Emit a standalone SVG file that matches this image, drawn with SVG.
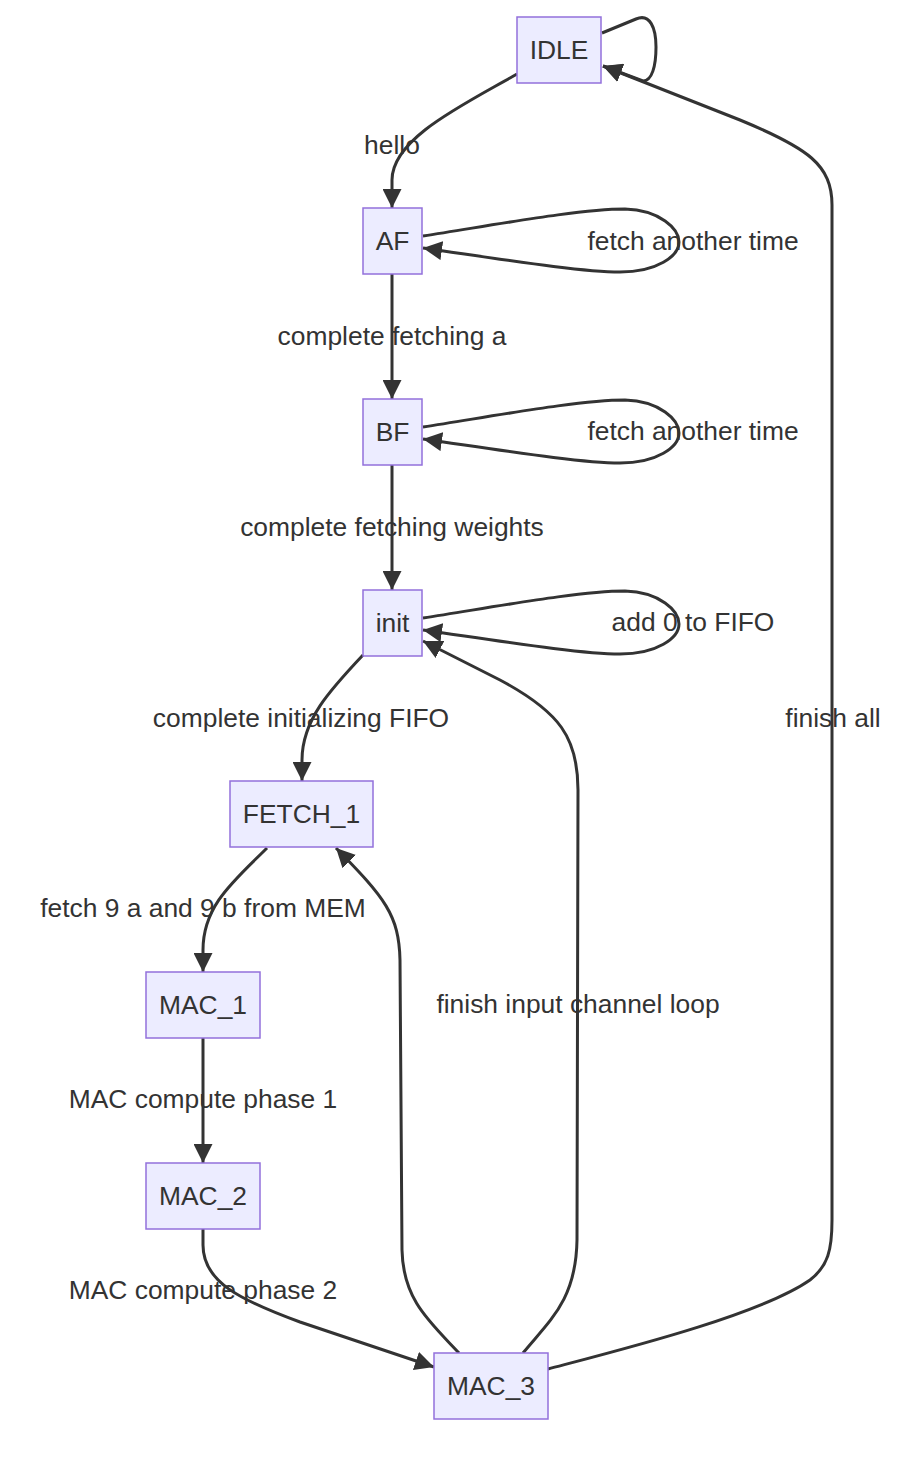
<svg xmlns="http://www.w3.org/2000/svg" width="906" height="1458" viewBox="0 0 906 1458">
<style>
.node rect{fill:#ECECFF;stroke:#9370DB;stroke-width:1.5}
text{font-family:"Liberation Sans",Arial,Helvetica,sans-serif;font-size:26.4px;fill:#333;text-anchor:middle}
.edge{fill:none;stroke:#333;stroke-width:3}
</style>
<defs>
<marker id="arrow" markerUnits="userSpaceOnUse" viewBox="0 0 10 10" refX="10" refY="5" markerWidth="19" markerHeight="19" orient="auto">
<path d="M0,0 L10,5 L0,10 z" fill="#333"/>
</marker>
</defs>
<rect width="906" height="1458" fill="#fff"/>
<g id="connectors">
<path class="edge" marker-end="url(#arrow)" d="M602,33 L636,19 C650,13 656,28 656,47 C656,66 652,81 643,81 L603,66"/>
<path class="edge" marker-end="url(#arrow)" d="M517,74 C465,104 392,138 392,180 L392,208"/>
<path class="edge" marker-end="url(#arrow)" d="M423,236 C500,224 580,209 625,209 C660,210 679,229 679,242 C679,256 657,272 620,272 C580,272 500,259 423,248"/>
<path class="edge" marker-end="url(#arrow)" d="M392,274 L392,399"/>
<path class="edge" marker-end="url(#arrow)" d="M423,427 C500,415 580,400 625,400 C660,401 679,420 679,433 C679,447 657,463 620,463 C580,463 500,450 423,439"/>
<path class="edge" marker-end="url(#arrow)" d="M392,465 L392,590"/>
<path class="edge" marker-end="url(#arrow)" d="M423,618 C500,606 580,591 625,591 C660,592 679,611 679,624 C679,638 657,654 620,654 C580,654 500,641 423,630"/>
<path class="edge" marker-end="url(#arrow)" d="M363,655 C330,690 302,720 302,760 L302,781"/>
<path class="edge" marker-end="url(#arrow)" d="M267,848 C235,880 203,905 203,950 L203,972"/>
<path class="edge" marker-end="url(#arrow)" d="M203,1038 L203,1163"/>
<path class="edge" marker-end="url(#arrow)" d="M203,1229 L203,1245 C203,1282 240,1300 300,1322 L434,1367"/>
<path class="edge" marker-end="url(#arrow)" d="M459,1353 C430,1322 403,1300 402,1250 L400,960 C399,915 385,898 336,848"/>
<path class="edge" marker-end="url(#arrow)" d="M523,1353 C550,1320 576,1300 577,1240 L578,790 C578,738 560,712 500,680 L423,641"/>
<path class="edge" marker-end="url(#arrow)" d="M548,1369 C620,1350 760,1315 810,1280 C828,1266 832,1250 832,1220 L832,205 C832,165 808,148 740,120 L603,66"/>
</g>
<g id="edge-labels">
<text x="392" y="154">hello</text>
<text x="693" y="250">fetch another time</text>
<text x="392" y="345">complete fetching a</text>
<text x="693" y="440">fetch another time</text>
<text x="392" y="536">complete fetching weights</text>
<text x="693" y="631">add 0 to FIFO</text>
<text x="301" y="727">complete initializing FIFO</text>
<text x="203" y="917">fetch 9 a and 9 b from MEM</text>
<text x="578" y="1013">finish input channel loop</text>
<text x="833" y="727">finish all</text>
<text x="203" y="1108">MAC compute phase 1</text>
<text x="203" y="1299">MAC compute phase 2</text>
</g>
<g id="IDLE" class="node"><rect x="517" y="17" width="84" height="66"/><text x="559" y="59">IDLE</text></g>
<g id="AF" class="node"><rect x="363" y="208" width="59" height="66"/><text x="392.5" y="250">AF</text></g>
<g id="BF" class="node"><rect x="363" y="399" width="59" height="66"/><text x="392.5" y="441">BF</text></g>
<g id="init" class="node"><rect x="363" y="590" width="59" height="66"/><text x="392.5" y="632">init</text></g>
<g id="FETCH_1" class="node"><rect x="230" y="781" width="143" height="66"/><text x="301.5" y="823">FETCH_1</text></g>
<g id="MAC_1" class="node"><rect x="146" y="972" width="114" height="66"/><text x="203" y="1014">MAC_1</text></g>
<g id="MAC_2" class="node"><rect x="146" y="1163" width="114" height="66"/><text x="203" y="1205">MAC_2</text></g>
<g id="MAC_3" class="node"><rect x="434" y="1353" width="114" height="66"/><text x="491" y="1395">MAC_3</text></g>
</svg>
